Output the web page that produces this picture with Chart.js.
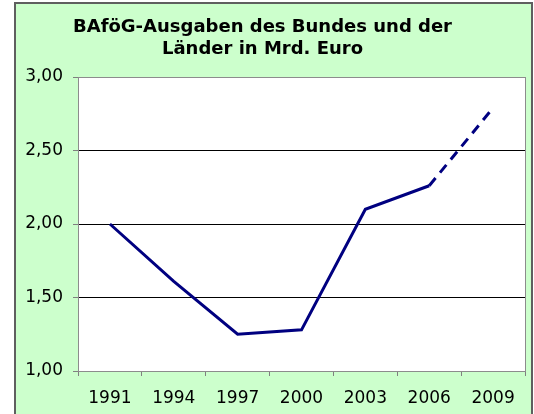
<!DOCTYPE html>
<html>
<head>
<meta charset="utf-8">
<script src="https://cdn.jsdelivr.net/npm/chart.js@4"></script>
<style>
    html, body { margin: 0; padding: 0; background: #ffffff; }
    #wrap { width: 534px; height: 414px; }
</style>
</head>
<body>
<div id="wrap"><canvas id="bafoeg_chart" width="534" height="414"></canvas></div>
<script>
    // Werte (Mrd. Euro)
    const years = ['1991', '1994', '1997', '2000', '2003', '2006', '2009'];
    const ausgaben = [2.00, 1.61, 1.25, 1.28, 2.10, 2.26, 2.79];
    const yTicks = [1.00, 1.50, 2.00, 2.50, 3.00];
    const titleLines = ['BAföG-Ausgaben des Bundes und der', 'Länder in Mrd. Euro'];

    const FONT = '"DejaVu Sans", Verdana, sans-serif';

    // Hintergrund, Rahmen und Rahmen der Zeichenfläche
    const frame = {
        id: 'frame',
        beforeDraw: function (chart) {
            const c = chart.ctx;
            c.save();
            c.fillStyle = '#ffffff';
            c.fillRect(0, 0, chart.width, chart.height);
            c.fillStyle = '#ccffcc';
            c.fillRect(15, 3, chart.width - 17, chart.height);
            c.strokeStyle = '#5f5f5f';
            c.lineWidth = 2;
            c.strokeRect(15, 3, chart.width - 17, chart.height + 10);
            const a = chart.chartArea;
            c.fillStyle = '#ffffff';
            c.fillRect(a.left, a.top, a.right - a.left, a.bottom - a.top);
            c.restore();
        },
        afterDatasetsDraw: function (chart) {
            const a = chart.chartArea;
            const c = chart.ctx;
            c.save();
            c.strokeStyle = '#8c8c8c';
            c.lineWidth = 1;
            c.strokeRect(a.left + 0.5, a.top + 0.5, a.right - a.left, a.bottom - a.top);
            c.restore();
        }
    };

    const ctx = document.getElementById('bafoeg_chart').getContext('2d');
    new Chart(ctx, {
        type: 'line',
        data: {
            labels: years,
            datasets: [{
                label: 'BAföG-Ausgaben',
                data: ausgaben,
                borderColor: '#000080',
                borderWidth: 3,
                pointRadius: 0,
                tension: 0,
                fill: false,
                segment: {
                    // Prognose 2006-2009 gestrichelt
                    borderDash: function (s) {
                        return s.p1DataIndex === years.length - 1 ? [10, 7] : undefined;
                    }
                }
            }]
        },
        options: {
            responsive: false,
            animation: false,
            layout: { padding: { left: 0, right: 9, top: 0, bottom: 0 } },
            plugins: {
                legend: { display: false },
                tooltip: { enabled: false },
                title: {
                    display: true,
                    text: titleLines,
                    color: '#000000',
                    font: { family: FONT, size: 18, weight: 'bold', lineHeight: 1.25 },
                    padding: { top: 16, bottom: 16 }
                }
            },
            scales: {
                x: {
                    type: 'category',
                    offset: true,
                    grid: {
                        offset: true,
                        drawOnChartArea: false,
                        drawTicks: true,
                        tickLength: 5,
                        color: '#808080'
                    },
                    border: { color: '#808080', width: 1 },
                    ticks: {
                        color: '#000000',
                        font: { family: FONT, size: 17 },
                        padding: 12,
                        maxRotation: 0,
                        autoSkip: false
                    },
                    afterFit: function (scale) { scale.height = 43; }
                },
                y: {
                    min: 1,
                    max: 3,
                    afterBuildTicks: function (scale) {
                        scale.ticks = yTicks.map(v => ({ value: v }));
                    },
                    grid: {
                        drawTicks: true,
                        tickLength: 5,
                        color: function (c) {
                            const v = c.tick && c.tick.value;
                            return (v === 1 || v === 3) ? '#808080' : '#000000';
                        },
                        tickColor: '#808080'
                    },
                    border: { color: '#808080', width: 1 },
                    ticks: {
                        color: '#000000',
                        font: { family: FONT, size: 17 },
                        padding: 10,
                        callback: function (value) {
                            return Number(value).toFixed(2).replace('.', ',');
                        }
                    },
                    afterFit: function (scale) { scale.width = 78; }
                }
            }
        },
        plugins: [frame]
    });
</script>
</body>
</html>
